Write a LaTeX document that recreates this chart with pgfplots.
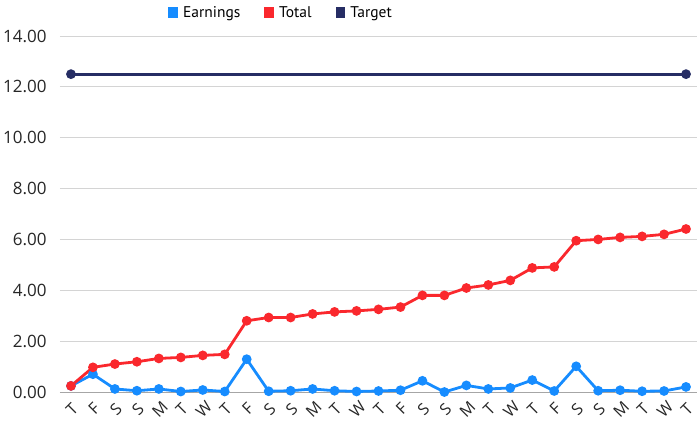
\documentclass[border=0pt]{standalone}
\usepackage{pgfplots}
\pgfplotsset{compat=1.18}
\usepackage{fontspec}
\setmainfont{Open Sans}
\newfontfamily\legfont{PT Sans}
\definecolor{cEarn}{RGB}{22,140,255}
\definecolor{cTot}{RGB}{250,40,45}
\definecolor{cTar}{RGB}{38,45,100}
\definecolor{cGrid}{RGB}{212,212,212}
\begin{document}
\begin{tikzpicture}
\useasboundingbox (-60pt,-32pt) rectangle (640pt,392pt);
\begin{axis}[
  at={(0,0)}, anchor=south west,
  scale only axis, width=637pt, height=356pt,
  xmin=-0.5, xmax=28.5, ymin=0, ymax=14,
  ytick={0,2,...,14},
  xtick={0,...,28},
  xticklabels={T,F,S,S,M,T,W,T,F,S,S,M,T,W,T,F,S,S,M,T,W,T,F,S,S,M,T,W,T},
  x tick label style={rotate=45, anchor=center, xshift=-11.3pt, yshift=-12.7pt, font=\fontsize{16}{16}\selectfont, color=black!85},
  y tick label style={font=\fontsize{17}{17}\selectfont, color=black!85, xshift=-10pt},
  yticklabel={\pgfmathprintnumber[fixed,fixed zerofill,precision=2,assume math mode=true]{\tick}},
  ymajorgrids, grid style={cGrid, line width=1pt},
  axis line style={draw=none},
  extra y ticks={0}, extra y tick labels={},
  extra y tick style={grid style={black!35, line width=1pt}},
  major tick length=0pt,
  tick style={draw=none},
  clip=false,
  legend columns=3,
  legend style={draw=none, fill=none, at={(0.347,1)}, anchor=south, yshift=13pt,
    font=\legfont\fontsize{15.5}{15.5}\selectfont, column sep=3pt,
    /tikz/every even column/.append style={column sep=22pt}},
  legend image code/.code={\fill (0pt,-4pt) rectangle (7pt,4pt);},
  every axis plot/.append style={line width=2.8pt, mark=*, mark size=3.4pt},
]
\addplot[color=cEarn] coordinates {
(0,0.24)(1,0.70)(2,0.12)(3,0.05)(4,0.12)(5,0.02)(6,0.08)(7,0.02)(8,1.29)(9,0.03)
(10,0.05)(11,0.12)(12,0.05)(13,0.02)(14,0.04)(15,0.07)(16,0.44)(17,0.00)(18,0.26)(19,0.12)
(20,0.16)(21,0.47)(22,0.04)(23,1.01)(24,0.05)(25,0.07)(26,0.03)(27,0.04)(28,0.20)};
\addlegendentry{Earnings}
\addplot[color=cTot] coordinates {
(0,0.24)(1,0.97)(2,1.10)(3,1.19)(4,1.32)(5,1.36)(6,1.44)(7,1.48)(8,2.80)(9,2.93)
(10,2.93)(11,3.07)(12,3.15)(13,3.19)(14,3.25)(15,3.34)(16,3.80)(17,3.80)(18,4.09)(19,4.21)
(20,4.39)(21,4.88)(22,4.92)(23,5.95)(24,6.00)(25,6.08)(26,6.12)(27,6.20)(28,6.41)};
\addlegendentry{Total}
\addplot[color=cTar] coordinates {(0,12.5)(28,12.5)};
\addlegendentry{Target}
\end{axis}
\end{tikzpicture}
\end{document}
